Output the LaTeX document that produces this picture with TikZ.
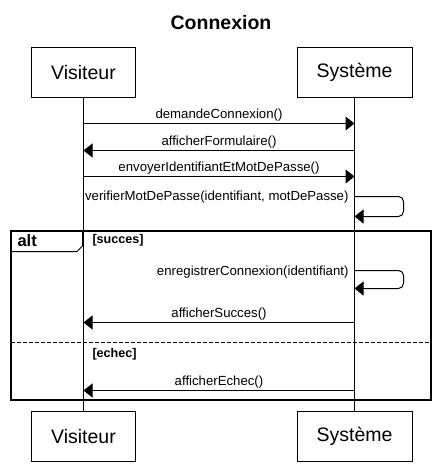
\documentclass[tikz,border=0pt]{standalone}
\usepackage{fontspec}
\setmainfont{Liberation Sans}
\usetikzlibrary{arrows.meta}

\begin{document}
\begin{tikzpicture}[x=1pt,y=-1pt,line width=1pt]
\tikzstyle{actor}=[rectangle,draw,minimum width=104pt,minimum height=50pt,font=\fontsize{19.5}{23}\selectfont]
\tikzstyle{msg}=[-{Triangle[length=9pt,width=14pt]}]
\tikzstyle{lbl}=[font=\fontsize{13.2}{15}\selectfont,inner sep=1.5pt]
\tikzstyle{guard}=[font=\bfseries\fontsize{12.6}{14}\selectfont,anchor=west,inner sep=0pt]
\useasboundingbox (0,0) rectangle (441,469);
\node [font=\bfseries\fontsize{19.5}{23}\selectfont] (title) at (221,23) {Connexion};
\node [actor] (vtop) at (83.5,72.5) {Visiteur};
\node [actor,minimum width=115pt] (stop) at (354.5,72.5) {Système};
\node [actor] (vbot) at (83.5,436.5) {Visiteur};
\node [actor,minimum width=115pt] (sbot) at (354.5,436.5) {Système};
% lifelines
\draw (vtop.south) -- (vbot.north);
\draw (stop.south) -- (sbot.north);
% message levels
\coordinate (y1) at (0,123.5);
\coordinate (y2) at (0,150.5);
\coordinate (y3) at (0,176.5);
\coordinate (y4) at (0,196.5);
\coordinate (y4b) at (0,216.5);
\coordinate (y5) at (0,270.5);
\coordinate (y5b) at (0,288.5);
\coordinate (y6) at (0,322.5);
\coordinate (y7) at (0,390.5);
\draw [msg] (vtop.south |- y1) -- node [lbl,above] (m1) {demandeConnexion()} (stop.south |- y1);
\draw [msg] (stop.south |- y2) -- node [lbl,above] (m2) {afficherFormulaire()} (vtop.south |- y2);
\draw [msg] (vtop.south |- y3) -- node [lbl,above] (m3) {envoyerIdentifiantEtMotDePasse()} (stop.south |- y3);
\draw [msg,rounded corners=5pt] (stop.south |- y4) -- ++(49,0) -- ++(0,20) -- (stop.south |- y4b);
\node [lbl,anchor=east] (m4) at ([xshift=-4pt,yshift=-1pt]stop.south |- y4) {verifierMotDePasse(identifiant, motDePasse)};
% alt fragment
\draw [line width=1.6pt] (11,231) rectangle (431,400);
\draw (11,251.5) -- (77,251.5) -- (82.5,246) -- (82.5,231);
\node [font=\bfseries\fontsize{16.5}{19}\selectfont,anchor=west,inner sep=0pt] (alt) at (17,241) {alt};
\node [guard] (g1) at (92,240) {[succes]};
\draw [msg,rounded corners=5pt] (stop.south |- y5) -- ++(49,0) -- ++(0,18) -- (stop.south |- y5b);
\node [lbl,anchor=east] (m5) at ([xshift=-4pt,yshift=-1.5pt]stop.south |- y5) {enregistrerConnexion(identifiant)};
\draw [msg] (stop.south |- y6) -- node [lbl,above] (m6) {afficherSucces()} (vtop.south |- y6);
\draw [line width=1.4pt,dash pattern=on 4pt off 2pt] (11,342.5) -- (431,342.5);
\node [guard] (g2) at (92,354) {[echec]};
\draw [msg] (stop.south |- y7) -- node [lbl,above] (m7) {afficherEchec()} (vtop.south |- y7);
\end{tikzpicture}
\end{document}
